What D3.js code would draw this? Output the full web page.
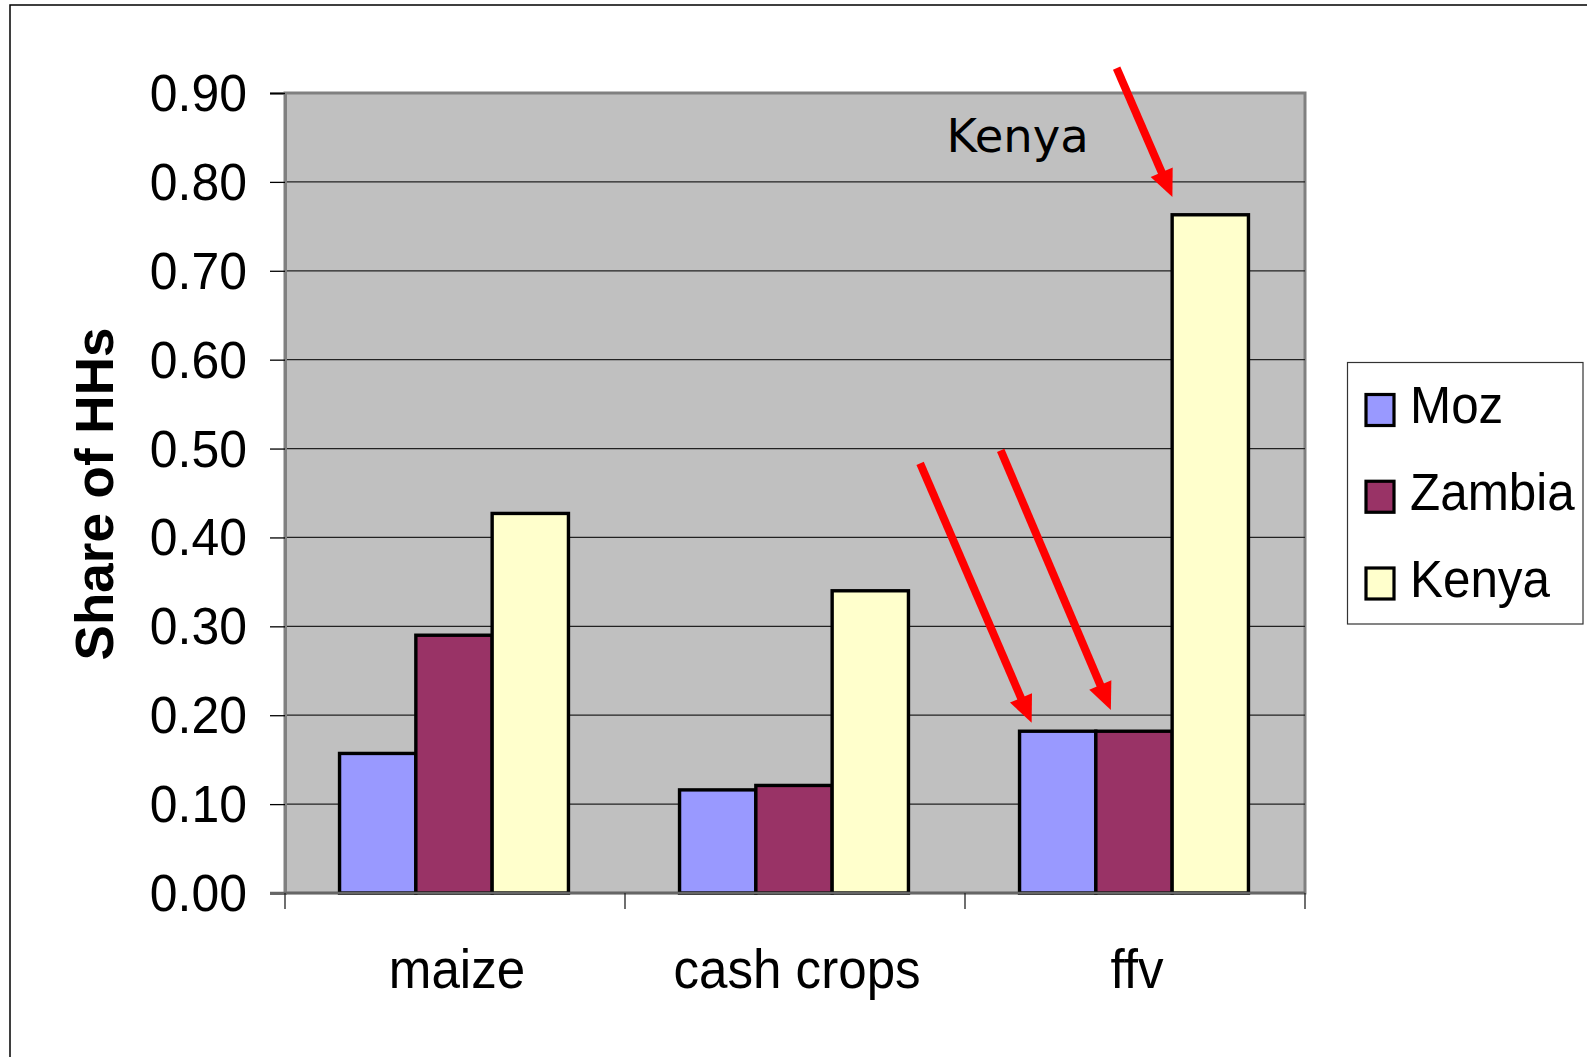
<!DOCTYPE html>
<html><head><meta charset="utf-8">
<script src="https://cdn.jsdelivr.net/npm/d3@7"></script>
<style>html,body{margin:0;padding:0;background:#fff;overflow:hidden;} svg{display:block;}</style>
</head><body>
<svg id="c" width="1587" height="1057"></svg>
<script>
// ---- data ----
const categories = ["maize", "cash crops", "ffv"];
const seriesNames = ["Moz", "Zambia", "Kenya"];
const mozValues = [0.157, 0.116, 0.182];
const zambiaValues = [0.290, 0.121, 0.182];
const kenyaValues = [0.427, 0.340, 0.763];
const yTickValues = [0, 0.1, 0.2, 0.3, 0.4, 0.5, 0.6, 0.7, 0.8, 0.9];
const yTickLabels = ["0.00", "0.10", "0.20", "0.30", "0.40", "0.50", "0.60", "0.70", "0.80", "0.90"];
const yTitle = "Share of HHs";
const annotationLabel = "Kenya";
const annotationLabelPos = [2.155, 0.834];       // [category position, value]
const arrowTails = [[2.446, 0.928], [1.868, 0.4834], [2.105, 0.498]];
const arrowTips  = [[2.610, 0.783], [2.196, 0.1916], [2.429, 0.206]];

// ---- styles ----
const colors = ["#9999FF", "#993366", "#FFFFCC"];
const FONT = "'Liberation Sans', Arial, Helvetica, sans-serif";

const svg = d3.select("#c");
const W = 1587, H = 1057;
const plot = {left: 285, right: 1305, top: 93, bottom: 893};

// outer frame
svg.append("rect").attr("x", 10).attr("y", 5).attr("width", W + 20).attr("height", H + 20)
  .attr("fill", "#fff").attr("stroke", "#000").attr("stroke-width", 1.5);

const x = d3.scaleBand().domain(categories).range([plot.left, plot.right]).padding(0);
const xs = d3.scaleBand().domain(seriesNames).range([0, x.bandwidth()]).paddingInner(0).paddingOuter(0.728);
const y = d3.scaleLinear().domain([0, 0.9]).range([plot.bottom, plot.top]);
const xPos = d3.scaleLinear().domain([0, categories.length]).range([plot.left, plot.right]);

// plot background
svg.append("rect").attr("x", plot.left).attr("y", plot.top)
  .attr("width", plot.right - plot.left).attr("height", plot.bottom - plot.top)
  .attr("fill", "#C0C0C0").attr("stroke", "#808080").attr("stroke-width", 3);

// gridlines
svg.append("g").selectAll("line").data(yTickValues.filter(v => v > 0 && v < 0.9)).join("line")
  .attr("x1", plot.left).attr("x2", plot.right)
  .attr("y1", d => y(d)).attr("y2", d => y(d))
  .attr("stroke", "#222").attr("stroke-width", 1.2);

// bars
const seriesValues = [mozValues, zambiaValues, kenyaValues];
const barData = [];
categories.forEach((c, i) => seriesNames.forEach((s, j) => barData.push({c, s, j, v: seriesValues[j][i]})));
svg.append("g").selectAll("rect").data(barData).join("rect")
  .attr("x", d => x(d.c) + xs(d.s) - 1)
  .attr("y", d => y(d.v))
  .attr("width", xs.bandwidth())
  .attr("height", d => y(0) - y(d.v))
  .attr("fill", d => colors[d.j])
  .attr("stroke", "#000").attr("stroke-width", 3.4);

// y axis
const yAxis = d3.axisLeft(y).tickValues(yTickValues).tickFormat((d, i) => yTickLabels[i]).tickSize(15).tickPadding(22);
const gy = svg.append("g").attr("transform", `translate(${plot.left},0)`).call(yAxis);
gy.select(".domain").attr("stroke", "#808080").attr("stroke-width", 3);
gy.selectAll(".tick line").attr("stroke", "#000").attr("stroke-width", 1.3);
const sxTick = 0.96;
gy.selectAll(".tick text")
  .attr("font-family", FONT).attr("font-size", 52).attr("fill", "#000")
  .attr("dy", null).attr("y", 17.5)
  .attr("x", -38 / sxTick)
  .attr("transform", `scale(${sxTick},1)`);

// x axis
const xAxis = d3.axisBottom(x).tickSize(0).tickFormat("");
const gx = svg.append("g").attr("transform", `translate(0,${plot.bottom})`).call(xAxis);
gx.select(".domain").remove();
svg.append("line").attr("x1", plot.left - 15).attr("x2", plot.right)
  .attr("y1", plot.bottom).attr("y2", plot.bottom).attr("stroke", "#666").attr("stroke-width", 2.5);
const boundaries = d3.range(categories.length + 1).map(i => xPos(i));
svg.append("g").selectAll("line").data(boundaries).join("line")
  .attr("x1", d => d).attr("x2", d => d).attr("y1", plot.bottom).attr("y2", plot.bottom + 16)
  .attr("stroke", "#222").attr("stroke-width", 1.3);
const sxCat = 0.93;
svg.append("g").selectAll("text").data(categories).join("text")
  .attr("transform", d => `translate(${x(d) + x.bandwidth() / 2 + 2},${plot.bottom + 95}) scale(${sxCat},1)`)
  .attr("text-anchor", "middle")
  .attr("font-family", FONT).attr("font-size", 55).attr("fill", "#000")
  .text(d => d);

// y title
svg.append("text")
  .attr("transform", `translate(113,494) rotate(-90)`)
  .attr("text-anchor", "middle")
  .attr("font-family", FONT).attr("font-size", 53).attr("font-weight", "bold").attr("fill", "#000")
  .text(yTitle);

// legend
const lg = svg.append("g");
lg.append("rect").attr("x", 1347.5).attr("y", 362.5).attr("width", 235.5).attr("height", 261.5)
  .attr("fill", "#fff").attr("stroke", "#333").attr("stroke-width", 1.2);
const legendY = d3.scalePoint().domain(seriesNames).range([410, 583.5]);
const sxLeg = 0.95;
seriesNames.forEach((s, j) => {
  const cy = legendY(s);
  lg.append("rect").attr("x", 1366).attr("y", cy - 15.5).attr("width", 28).attr("height", 31)
    .attr("fill", colors[j]).attr("stroke", "#000").attr("stroke-width", 3.2);
  lg.append("text")
    .attr("transform", `translate(1410,${cy + 13}) scale(${sxLeg},1)`)
    .attr("font-family", FONT).attr("font-size", 52).attr("fill", "#000")
    .text(s);
});

// arrows
const ag = svg.append("g");
arrowTails.forEach((t, i) => {
  const tip = arrowTips[i];
  const x0 = xPos(t[0]), y0 = y(t[1]), x1 = xPos(tip[0]), y1 = y(tip[1]);
  const dx = x1 - x0, dy = y1 - y0, len = Math.hypot(dx, dy);
  const ux = dx / len, uy = dy / len, px = -uy, py = ux;
  const hl = 27, hw = 12;
  const bx = x1 - ux * hl, by = y1 - uy * hl;
  ag.append("line").attr("x1", x0).attr("y1", y0).attr("x2", bx + ux * 2).attr("y2", by + uy * 2)
    .attr("stroke", "#FF0000").attr("stroke-width", 8);
  ag.append("path")
    .attr("d", `M${x1},${y1}L${bx + px * hw},${by + py * hw}L${bx - px * hw},${by - py * hw}Z`)
    .attr("fill", "#FF0000");
});

// annotation text
svg.append("text")
  .attr("x", xPos(annotationLabelPos[0])).attr("y", y(annotationLabelPos[1]))
  .attr("text-anchor", "middle")
  .attr("font-family", "'DejaVu Sans', Verdana, sans-serif").attr("font-size", 46.5).attr("fill", "#000")
  .text(annotationLabel);
</script>
</body></html>
